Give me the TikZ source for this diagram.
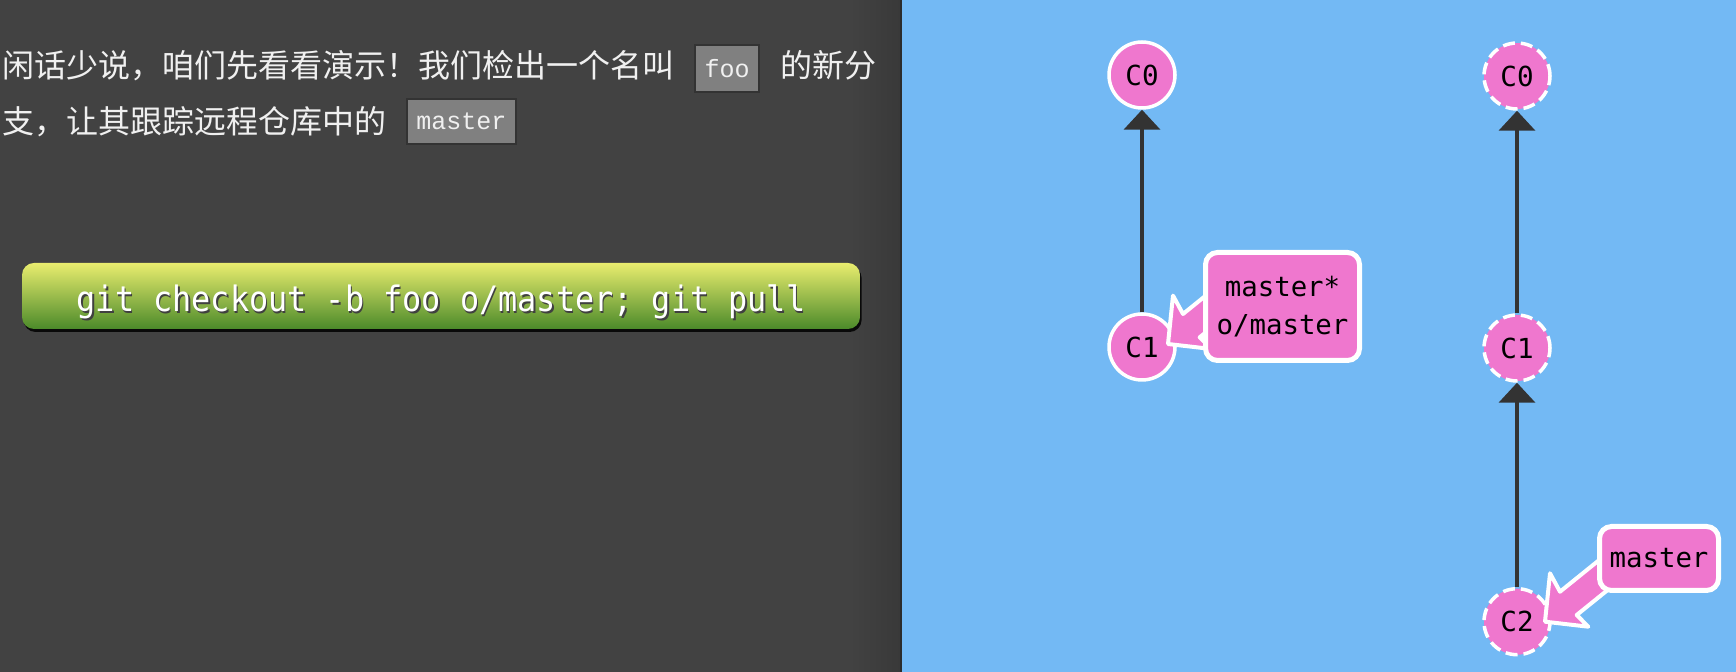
\documentclass[tikz,border=0pt]{standalone}
\usepackage{fontspec}
\newfontfamily\cjk{Noto Sans CJK SC}
\newfontfamily\cmono{DejaVu Sans Mono}
\newfontfamily\btnfont[FakeStretch=0.91]{DejaVu Sans Mono}
\newfontfamily\codefont{Liberation Mono}
\usetikzlibrary{arrows.meta,shadows,calc}
\definecolor{panel}{HTML}{424242}
\definecolor{paneledge}{HTML}{393939}
\definecolor{divider}{HTML}{2C2C2C}
\definecolor{sky}{HTML}{73B9F4}
\definecolor{pinkc}{HTML}{EF77CE}
\definecolor{edgec}{HTML}{333333}
\definecolor{btntop}{HTML}{E9ED6E}
\definecolor{btnbot}{HTML}{4B8A2A}
\definecolor{codebg}{HTML}{808080}
\definecolor{txt}{HTML}{F0F0F0}
\begin{document}
\begin{tikzpicture}[x=0.5pt,y=-0.5pt,
  cjktext/.style={anchor=base west, inner sep=0pt, text=txt, font=\cjk\fontsize{16pt}{20pt}\selectfont},
  codebox/.style={draw=edgec, line width=1pt, fill=codebg, inner sep=0pt, text=txt, font=\codefont\fontsize{12.5pt}{15pt}\selectfont},
  btn/.style={rounded corners=6pt, top color=btntop, bottom color=btnbot, minimum width=419pt, minimum height=33pt, inner sep=0pt,
     drop shadow={shadow xshift=0.8pt, shadow yshift=-1.5pt, fill=black, opacity=0.85}},
  btntext/.style={anchor=base, inner sep=0pt, font=\btnfont\fontsize{17.5pt}{21pt}\selectfont},
  commit/.style={circle, fill=pinkc, draw=white, line width=1.75pt, minimum size=33pt, inner sep=0pt,
     font=\cmono\fontsize{13.8pt}{16pt}\selectfont},
  ghost/.style={commit, dash pattern=on 6pt off 3pt},
  parent/.style={draw=edgec, line width=2pt, -{Triangle[width=18pt,length=10pt]}},
  tagarrow/.style={fill=pinkc, draw=white, line width=2pt, line join=round},
  tag/.style={rectangle, rounded corners=6pt, fill=pinkc, draw=white, line width=2.5pt, inner sep=0pt, align=center,
     font=\cmono\fontsize{13.7pt}{19pt}\selectfont}
]
\useasboundingbox (0,0) rectangle (1736,672);
% panels
\fill[panel] (0,0) rectangle (900,672);
\shade[left color=panel, right color=paneledge] (850,0) rectangle (900,672);
\fill[divider] (900,0) rectangle (902,672);
\fill[sky] (902,0) rectangle (1736,672);

% instructions
\node[cjktext] (l1) at (2,78) {闲话少说，咱们先看看演示！我们检出一个名叫};
\node[codebox, minimum width=32pt, minimum height=23.5pt] (foo) at (727,68.5) {foo};
\node[cjktext] (l1b) at (780,78) {的新分};
\node[cjktext] (l2) at (2,134) {支，让其跟踪远程仓库中的};
\node[codebox, minimum width=54.5pt, minimum height=22.5pt] (mst) at (461.5,121.5) {master};

% command button
\node[btn] (cmd) at (441,296) {};
\node[btntext, text=black!75] (cmdsh) at (442.5,313.5) {git checkout -b foo o/master; git pull};
\node[btntext, text=white] (cmdtx) at (441,311.7) {git checkout -b foo o/master; git pull};

% left tree
\node[commit] (c0a) at (1142,75) {C0};
\node[commit] (c1a) at (1142,347) {C1};
\draw[parent] (c1a) -- (c0a);

% right tree
\node[ghost] (c0b) at (1517,76) {C0};
\node[ghost] (c1b) at (1517,348) {C1};
\node[ghost] (c2b) at (1517,621.7) {C2};
\draw[parent] (c1b) -- (c0b);
\draw[parent] (c2b) -- (c1b);

% tag arrows
\coordinate (ta) at ($(c1a)+(26,-3)$);
\coordinate (tb) at ($(c2b)+(28,0)$);
\draw[tagarrow] (ta) -- ++(5,-48.4) -- ++(10,18.4) -- ++(46.8,-37.8) -- ++(16.7,23.3) -- ++(-46.8,37.8) -- ++(11.6,11.7) -- cycle;
\draw[tagarrow] (tb) -- ++(5,-48.4) -- ++(10,18.4) -- ++(46.8,-37.8) -- ++(16.7,23.3) -- ++(-46.8,37.8) -- ++(11.6,11.7) -- cycle;

% tags
\node[tag, minimum width=77pt, minimum height=54pt] (taga) at (1282.5,306.5) {master*\\o/master};
\node[tag, minimum width=59.5pt, minimum height=32pt] (tagb) at (1659,558.5) {master};
\end{tikzpicture}
\end{document}
